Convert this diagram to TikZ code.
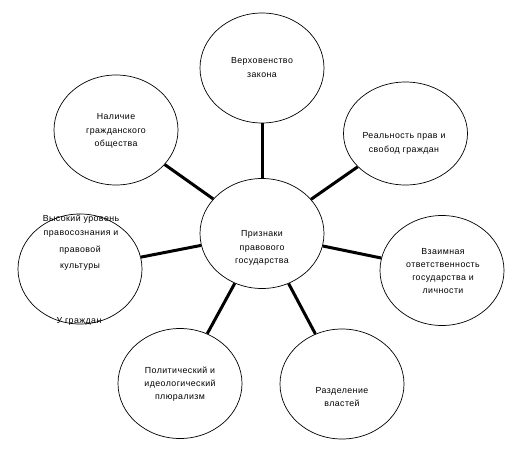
\documentclass[tikz,border=0pt]{standalone}
\usepackage{fontspec}
\setmainfont{Liberation Sans}[LetterSpace=5]
\usetikzlibrary{shapes.geometric}
\begin{document}
\begin{tikzpicture}[x=1pt, y=-1pt, oval/.style={ellipse, draw, line width=0.7pt, minimum width=124pt, minimum height=110pt, inner sep=0pt}, txt/.style={align=center, inner sep=0pt, font=\fontsize{8.8}{13.3}\selectfont}, link/.style={line width=3pt}]
\useasboundingbox (0,0) rectangle (527,469);
\node[oval] (sign) at (262,233.5) {};
\node[oval] (law) at (262,68) {};
\node[oval] (civil) at (116,130) {};
\node[oval, minimum height=103pt] (rights) at (405.5,133.5) {};
\node[oval] (culture) at (80,269) {};
\node[oval] (resp) at (442,270.5) {};
\node[oval] (plural) at (180,383.5) {};
\node[oval] (powers) at (342,384) {};
\node[txt] (signt) at (262,248) {Признаки\\правового\\государства};
\node[txt] (lawt) at (262,67.5) {Верховенство\\закона};
\node[txt] (civilt) at (116,131) {Наличие\\гражданского\\общества};
\node[txt] (rightst) at (404,143.5) {Реальность прав и\\свобод граждан};
\node[txt] (culturet) at (81,226) {Высокий уровень\\правосознания и};
\node[txt, font=\fontsize{8.8}{16}\selectfont] (culturet2) at (80,258) {правовой\\культуры};
\node[txt] (culturet3) at (79,321) {У граждан};
\node[txt] (respt) at (443,271) {Взаимная\\ответственность\\государства и\\личности};
\node[txt] (pluralt) at (180,384) {Политический и\\идеологический\\плюрализм};
\node[txt] (powerst) at (342,397) {Разделение\\властей};
\draw[link] (sign) -- (law); \draw[link] (sign) -- (civil); \draw[link] (sign) -- (rights); \draw[link] (sign) -- (culture);
\draw[link] (sign) -- (resp); \draw[link] (sign) -- (plural); \draw[link] (sign) -- (powers);
\end{tikzpicture}
\end{document}
